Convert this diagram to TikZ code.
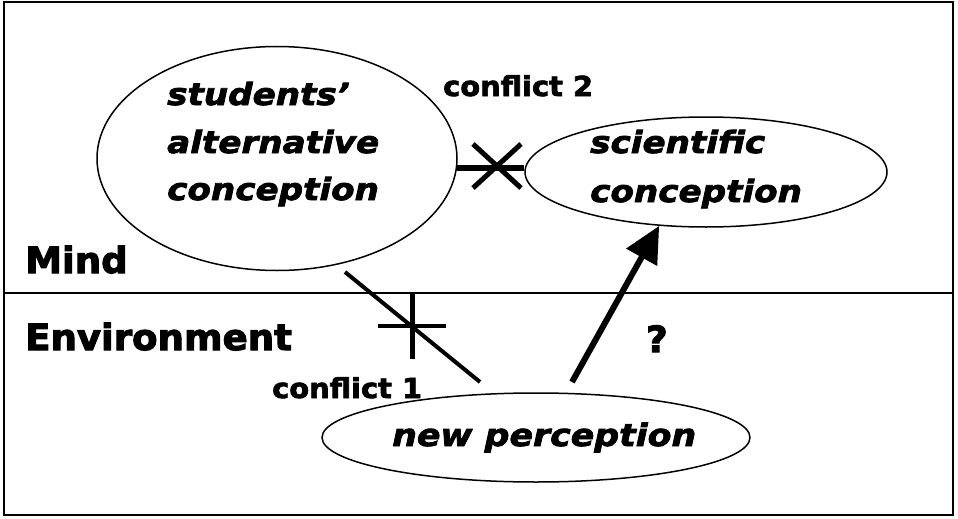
\documentclass[tikz,border=0pt]{standalone}
\usepackage{fontspec}
\setmainfont{DejaVu Sans}
\newfontfamily\ifont{DejaVu Sans}[FakeStretch=1.12, FakeBold=2.5]
\newfontfamily\lfont{DejaVu Sans}[FakeStretch=1.05, FakeBold=2.5]
\newfontfamily\rfont{DejaVu Sans}[FakeStretch=1.03, FakeBold=3]
\usetikzlibrary{arrows.meta,shapes.geometric}
\begin{document}
\begin{tikzpicture}[x=1pt,y=-1pt,
  concept/.style={ellipse, draw, line width=1.5pt, inner sep=0pt},
  itxt/.style={anchor=base west, inner sep=0pt, font=\ifont\bfseries\itshape\fontsize{30.5}{34}\selectfont},
  lbl/.style={anchor=base west, inner sep=0pt, font=\lfont\bfseries\fontsize{27.5}{30}\selectfont},
  region/.style={anchor=base west, inner sep=0pt, font=\rfont\bfseries\fontsize{36}{40}\selectfont},
  conn/.style={line width=#1},
]
\useasboundingbox (0,0) rectangle (958,519);
\draw[line width=1.5pt] (4,2) rectangle (953,515);
\draw[line width=1.5pt] (4,293) -- (953,293);

% ellipses
\node[concept, minimum width=360, minimum height=224] (alt) at (277,158.5) {};
\node[concept, minimum width=362, minimum height=110] (sci) at (706,172) {};
\node[concept, minimum width=428, minimum height=89] (np) at (536,437.5) {};

% texts in ellipses
\node[itxt] (alt1) at (167,105) {students’};
\node[itxt] (alt2) at (167,153) {alternative};
\node[itxt] (alt3) at (167,200) {conception};
\node[itxt] (sci1) at (590,153) {scientific};
\node[itxt] (sci2) at (590,202) {conception};
\node[itxt, font=\ifont\bfseries\itshape\fontsize{31}{34}\selectfont] (np1) at (392,446) {new perception};

% labels
\node[lbl] (cf2) at (443,96) {conflict 2};
\node[lbl] (cf1) at (272,398) {conflict 1};
\node[region] (mind) at (25,273) {Mind};
\node[region] (env) at (25,350) {Environment};
\node[region] (q) at (646,352) {?};

% conflict 2
\draw[conn=6pt] (alt.-3) -- (alt.-3 -| sci.west);
\coordinate (x2) at (497,166);
\draw[conn=5pt] (x2) ++(-24,-22) -- ++(48,44);
\draw[conn=5pt] (x2) ++(-24,22) -- ++(48,-44);

% conflict 1
\coordinate (c1a) at (345,272);
\coordinate (c1b) at (480,382);
\draw[conn=4pt] (c1a) -- (c1b);
\coordinate (x1) at (412,326);
\draw[conn=5pt] (x1) ++(0,-33) -- ++(0,66);
\draw[conn=4pt] (x1) ++(-34,0) -- ++(68,0);

% arrow
\coordinate (a0) at (572,382);
\draw[conn=6pt, -{Triangle[length=36pt,width=34pt]}] (a0) -- (sci.-131);
\end{tikzpicture}
\end{document}
